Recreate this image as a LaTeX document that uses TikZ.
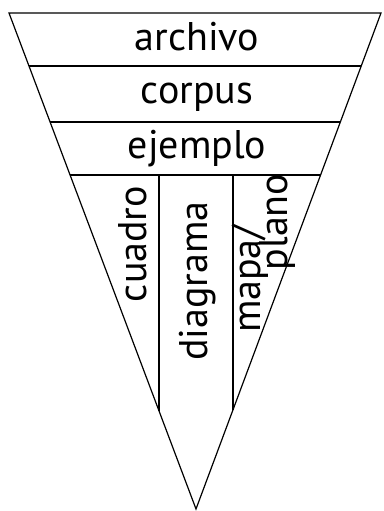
\documentclass[tikz,border=0pt]{standalone}
\usepackage{fontspec}
\setmainfont{PT Sans}
\begin{document}
\begin{tikzpicture}[x=0.75pt,y=-0.75pt, line width=0.9pt,
    label text/.style={font=\fontsize{30}{30}\selectfont, inner sep=0pt}]
\useasboundingbox (0,0) rectangle (384,511);

% Funnel
\draw (9,13)--(381,13)--(196,509)--cycle;

% Bands
\draw (29,66)--(361.2,66);
\draw (50.1,122)--(340.3,122);
\draw (70.1,175)--(320.6,175);

% Columns
\draw (159,175)--(159,410.9);
\draw (233,175)--(233,409.8);

% Band labels
\node[label text, anchor=base] (archivo) at (197,50) {archivo};
\node[label text, anchor=base] (corpus) at (197,103) {corpus};
\node[label text, anchor=base] (ejemplo) at (197,158) {ejemplo};

% Column labels
\node[label text, rotate=90] (cuadro) at (133,244) {cuadro};
\node[label text, rotate=90] (diagrama) at (198,281) {diagrama};
\node[label text, rotate=90] (mapa) at (250,279) {mapa/};
\node[label text, rotate=90] (plano) at (277,222) {plano};

\end{tikzpicture}
\end{document}
